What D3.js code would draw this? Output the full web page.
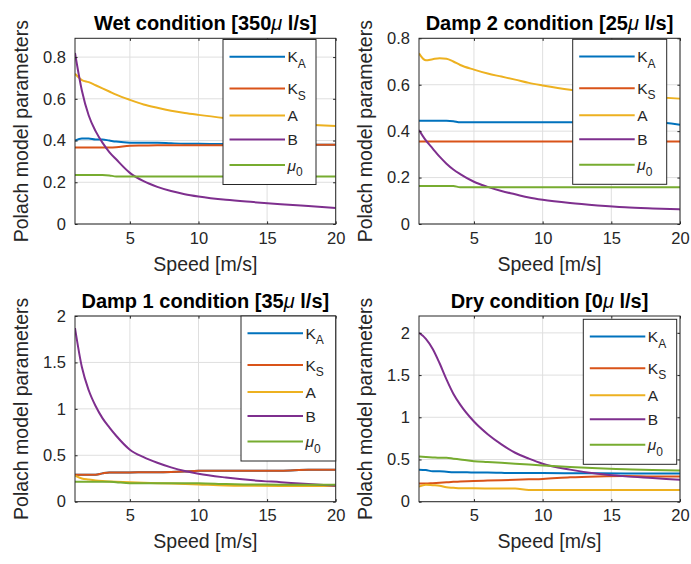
<!DOCTYPE html>
<html><head><meta charset="utf-8">
<script src="https://cdn.jsdelivr.net/npm/d3@7"></script>
<style>body{margin:0;background:#fff} svg{display:block}</style>
</head><body>
<svg id="c" width="691" height="564"></svg>
<script>
// ---------- data ----------
const speeds = [1, 1.5, 2, 2.5, 3, 3.5, 4, 5, 6, 7, 8, 9, 10, 12, 14, 16, 18, 20];
const xTicks = [5, 10, 15, 20];
const xLabel = "Speed [m/s]";
const yLabel = "Polach model parameters";
const seriesKeys = ["KA", "KS", "A", "B", "mu0"];

// Wet condition [350 µl/s]
const wetKA  = [0.40, 0.41, 0.41, 0.405, 0.405, 0.40, 0.395, 0.39, 0.39, 0.39, 0.387, 0.385, 0.385, 0.383, 0.382, 0.381, 0.38, 0.38];
const wetKS  = [0.367, 0.367, 0.367, 0.367, 0.367, 0.367, 0.368, 0.375, 0.376, 0.377, 0.377, 0.378, 0.378, 0.378, 0.379, 0.379, 0.38, 0.38];
const wetA   = [0.72, 0.69, 0.68, 0.665, 0.65, 0.635, 0.62, 0.595, 0.573, 0.557, 0.543, 0.532, 0.523, 0.507, 0.493, 0.483, 0.476, 0.47];
const wetB   = [0.82, 0.64, 0.52, 0.445, 0.39, 0.345, 0.31, 0.245, 0.205, 0.178, 0.158, 0.143, 0.132, 0.116, 0.105, 0.095, 0.086, 0.077];
const wetMu0 = [0.235, 0.235, 0.235, 0.235, 0.235, 0.233, 0.228, 0.228, 0.228, 0.228, 0.228, 0.228, 0.228, 0.228, 0.228, 0.228, 0.228, 0.228];

// Damp 2 condition [25 µl/s]
const damp2KA  = [0.445, 0.445, 0.445, 0.445, 0.445, 0.443, 0.438, 0.438, 0.438, 0.438, 0.438, 0.438, 0.438, 0.438, 0.438, 0.438, 0.438, 0.428];
const damp2KS  = [0.355, 0.355, 0.355, 0.355, 0.355, 0.355, 0.355, 0.355, 0.355, 0.355, 0.355, 0.355, 0.355, 0.355, 0.355, 0.355, 0.355, 0.355];
const damp2A   = [0.735, 0.705, 0.71, 0.714, 0.712, 0.70, 0.685, 0.665, 0.648, 0.635, 0.622, 0.608, 0.597, 0.578, 0.565, 0.555, 0.547, 0.54];
const damp2B   = [0.405, 0.36, 0.325, 0.29, 0.26, 0.235, 0.215, 0.182, 0.16, 0.142, 0.128, 0.114, 0.104, 0.09, 0.08, 0.072, 0.067, 0.063];
const damp2Mu0 = [0.164, 0.164, 0.164, 0.164, 0.164, 0.164, 0.158, 0.158, 0.158, 0.158, 0.158, 0.158, 0.158, 0.158, 0.158, 0.158, 0.158, 0.158];

// Damp 1 condition [35 µl/s]
const damp1KA  = [0.29, 0.29, 0.29, 0.29, 0.305, 0.315, 0.315, 0.315, 0.317, 0.318, 0.32, 0.325, 0.332, 0.332, 0.333, 0.333, 0.343, 0.343];
const damp1KS  = [0.29, 0.29, 0.29, 0.29, 0.305, 0.315, 0.315, 0.315, 0.317, 0.318, 0.32, 0.325, 0.332, 0.332, 0.333, 0.333, 0.343, 0.343];
const damp1A   = [0.28, 0.25, 0.238, 0.228, 0.222, 0.218, 0.215, 0.21, 0.205, 0.2, 0.195, 0.19, 0.185, 0.175, 0.172, 0.17, 0.17, 0.17];
const damp1B   = [1.87, 1.45, 1.2, 1.03, 0.9, 0.8, 0.71, 0.56, 0.48, 0.42, 0.37, 0.33, 0.3, 0.26, 0.23, 0.21, 0.19, 0.172];
const damp1Mu0 = [0.216, 0.216, 0.216, 0.216, 0.216, 0.215, 0.21, 0.2, 0.2, 0.2, 0.2, 0.2, 0.2, 0.19, 0.185, 0.183, 0.182, 0.182];

// Dry condition [0 µl/s]
const dryKA  = [0.38, 0.375, 0.36, 0.36, 0.355, 0.35, 0.35, 0.345, 0.345, 0.342, 0.34, 0.34, 0.34, 0.338, 0.336, 0.335, 0.335, 0.335];
const dryKS  = [0.215, 0.215, 0.22, 0.225, 0.23, 0.235, 0.238, 0.245, 0.25, 0.255, 0.26, 0.265, 0.27, 0.29, 0.30, 0.305, 0.30, 0.30];
const dryA   = [0.18, 0.20, 0.195, 0.19, 0.17, 0.165, 0.16, 0.158, 0.157, 0.156, 0.155, 0.14, 0.14, 0.14, 0.14, 0.14, 0.14, 0.14];
const dryB   = [2.0, 1.93, 1.81, 1.64, 1.45, 1.28, 1.15, 0.95, 0.8, 0.68, 0.58, 0.51, 0.45, 0.38, 0.33, 0.30, 0.28, 0.26];
const dryMu0 = [0.535, 0.53, 0.525, 0.52, 0.52, 0.51, 0.50, 0.48, 0.47, 0.46, 0.45, 0.44, 0.43, 0.41, 0.395, 0.385, 0.375, 0.37];

const titleMain = ["Wet condition [350", "Damp 2 condition [25", "Damp 1 condition [35", "Dry condition [0"];
const yMax = [0.89, 0.8, 2, 2.2];
const yTicksWet = [0, 0.2, 0.4, 0.6, 0.8];
const yTicksDamp2 = [0, 0.2, 0.4, 0.6, 0.8];
const yTicksDamp1 = [0, 0.5, 1, 1.5, 2];
const yTicksDry = [0, 0.5, 1, 1.5, 2];

// ---------- styling / layout ----------
const colors = {KA: "#0072BD", KS: "#D95319", A: "#EDB120", B: "#7E2F8E", mu0: "#77AC30"};
const FONT = "'Liberation Sans', Arial, Helvetica, sans-serif";
const TXT = "#262626";

const panels = [
  {x0: 75, x1: 335.7, y0: 38.3, y1: 224, lx: 223, ly: 39.5, lw: 93,
   data: {KA: wetKA, KS: wetKS, A: wetA, B: wetB, mu0: wetMu0}, yt: yTicksWet},
  {x0: 419, x1: 680, y0: 38.3, y1: 224, lx: 572.7, ly: 39.3, lw: 94,
   data: {KA: damp2KA, KS: damp2KS, A: damp2A, B: damp2B, mu0: damp2Mu0}, yt: yTicksDamp2},
  {x0: 75, x1: 335.7, y0: 316, y1: 501.7, lx: 241, ly: 316, lw: 94.7,
   data: {KA: damp1KA, KS: damp1KS, A: damp1A, B: damp1B, mu0: damp1Mu0}, yt: yTicksDamp1},
  {x0: 419, x1: 680, y0: 316, y1: 501.7, lx: 583.3, ly: 319.3, lw: 93.4,
   data: {KA: dryKA, KS: dryKS, A: dryA, B: dryB, mu0: dryMu0}, yt: yTicksDry}
];

const svg = d3.select("#c");
svg.append("rect").attr("width", 691).attr("height", 564).attr("fill", "#fff");

panels.forEach((p, i) => {
  const x = d3.scaleLinear().domain([1, 20]).range([p.x0, p.x1]);
  const y = d3.scaleLinear().domain([0, yMax[i]]).range([p.y1, p.y0]);
  const g = svg.append("g");

  g.append("rect").attr("x", p.x0).attr("y", p.y0).attr("width", p.x1 - p.x0).attr("height", p.y1 - p.y0).attr("fill", "#fff");

  // grid
  g.append("g").selectAll("line").data(xTicks).join("line")
    .attr("x1", d => x(d)).attr("x2", d => x(d)).attr("y1", p.y0).attr("y2", p.y1)
    .attr("stroke", "#dfdfdf").attr("stroke-width", 1);
  g.append("g").selectAll("line").data(p.yt).join("line")
    .attr("y1", d => y(d)).attr("y2", d => y(d)).attr("x1", p.x0).attr("x2", p.x1)
    .attr("stroke", "#dfdfdf").attr("stroke-width", 1);

  const cid = "clip" + i;
  svg.append("clipPath").attr("id", cid).append("rect")
    .attr("x", p.x0).attr("y", p.y0 - 1).attr("width", p.x1 - p.x0).attr("height", p.y1 - p.y0 + 1);

  const line = d3.line().x((d, k) => x(speeds[k])).y(d => y(d)).curve(d3.curveMonotoneX);
  const lg = g.append("g").attr("clip-path", `url(#${cid})`);
  seriesKeys.forEach(k => {
    lg.append("path").attr("d", line(p.data[k])).attr("fill", "none")
      .attr("stroke", colors[k]).attr("stroke-width", 2).attr("stroke-linejoin", "round");
  });

  // axes (inward ticks, mirrored box)
  const ax = g.append("g").attr("transform", `translate(0,${p.y1})`)
    .call(d3.axisBottom(x).tickValues(xTicks).tickSizeInner(-2.6).tickSizeOuter(0).tickPadding(8));
  const axTop = g.append("g").attr("transform", `translate(0,${p.y0})`)
    .call(d3.axisTop(x).tickValues(xTicks).tickSizeInner(-2.6).tickSizeOuter(0).tickFormat(""));
  const ay = g.append("g").attr("transform", `translate(${p.x0},0)`)
    .call(d3.axisLeft(y).tickValues(p.yt).tickSizeInner(-2.6).tickSizeOuter(0).tickPadding(9).tickFormat(d3.format("~g")));
  const ayR = g.append("g").attr("transform", `translate(${p.x1},0)`)
    .call(d3.axisRight(y).tickValues(p.yt).tickSizeInner(-2.6).tickSizeOuter(0).tickFormat(""));
  [ax, axTop, ay, ayR].forEach(a => {
    a.select(".domain").remove();
    a.selectAll("line").attr("stroke", TXT).attr("stroke-width", 1);
    a.selectAll("text").attr("fill", TXT).style("font-family", FONT).style("font-size", "16.5px");
  });
  ax.selectAll("text").attr("dy", "0.71em");

  g.append("rect").attr("x", p.x0).attr("y", p.y0).attr("width", p.x1 - p.x0).attr("height", p.y1 - p.y0)
    .attr("fill", "none").attr("stroke", TXT).attr("stroke-width", 1);

  // title
  const t = g.append("text").attr("x", (p.x0 + p.x1) / 2).attr("y", p.y0 - 8.5)
    .attr("text-anchor", "middle").style("font-family", FONT).style("font-size", "20px")
    .style("font-weight", "bold").attr("fill", "#000");
  t.append("tspan").text(titleMain[i]);
  t.append("tspan").text("\u03BC").style("font-style", "italic").style("font-weight", "normal");
  t.append("tspan").text(" l/s]");

  // x label
  g.append("text").attr("x", (p.x0 + p.x1) / 2).attr("y", p.y1 + 46.5)
    .attr("text-anchor", "middle").style("font-family", FONT).style("font-size", "19.5px")
    .attr("fill", TXT).text(xLabel);
  // y label
  const lx = p.x0 - 47;
  g.append("text").attr("transform", `translate(${lx},${(p.y0 + p.y1) / 2}) rotate(-90)`)
    .attr("text-anchor", "middle").style("font-family", FONT).style("font-size", "19.5px")
    .attr("fill", TXT).text(yLabel);

  // legend
  const L = g.append("g").attr("transform", `translate(${p.lx},${p.ly})`);
  L.append("rect").attr("width", p.lw).attr("height", 145).attr("fill", "#fff")
    .attr("stroke", TXT).attr("stroke-width", 1);
  const offs = [17.3, 49, 76, 100, 125.5];
  seriesKeys.forEach((k, j) => {
    const yy = offs[j];
    L.append("line").attr("x1", 6.5).attr("x2", 62).attr("y1", yy).attr("y2", yy)
      .attr("stroke", colors[k]).attr("stroke-width", 2);
    const tx = L.append("text").attr("x", 64.5).attr("y", yy + 5.5)
      .style("font-family", FONT).style("font-size", "15.5px").attr("fill", TXT);
    if (k === "KA" || k === "KS") {
      tx.append("tspan").text("K");
      tx.append("tspan").attr("dy", 5.5).style("font-size", "12px").text(k === "KA" ? "A" : "S");
    } else if (k === "mu0") {
      tx.append("tspan").text("\u03BC").style("font-style", "italic");
      tx.append("tspan").attr("dy", 5.5).style("font-size", "12px").text("0");
    } else {
      tx.text(k);
    }
  });
});
</script>
</body></html>
